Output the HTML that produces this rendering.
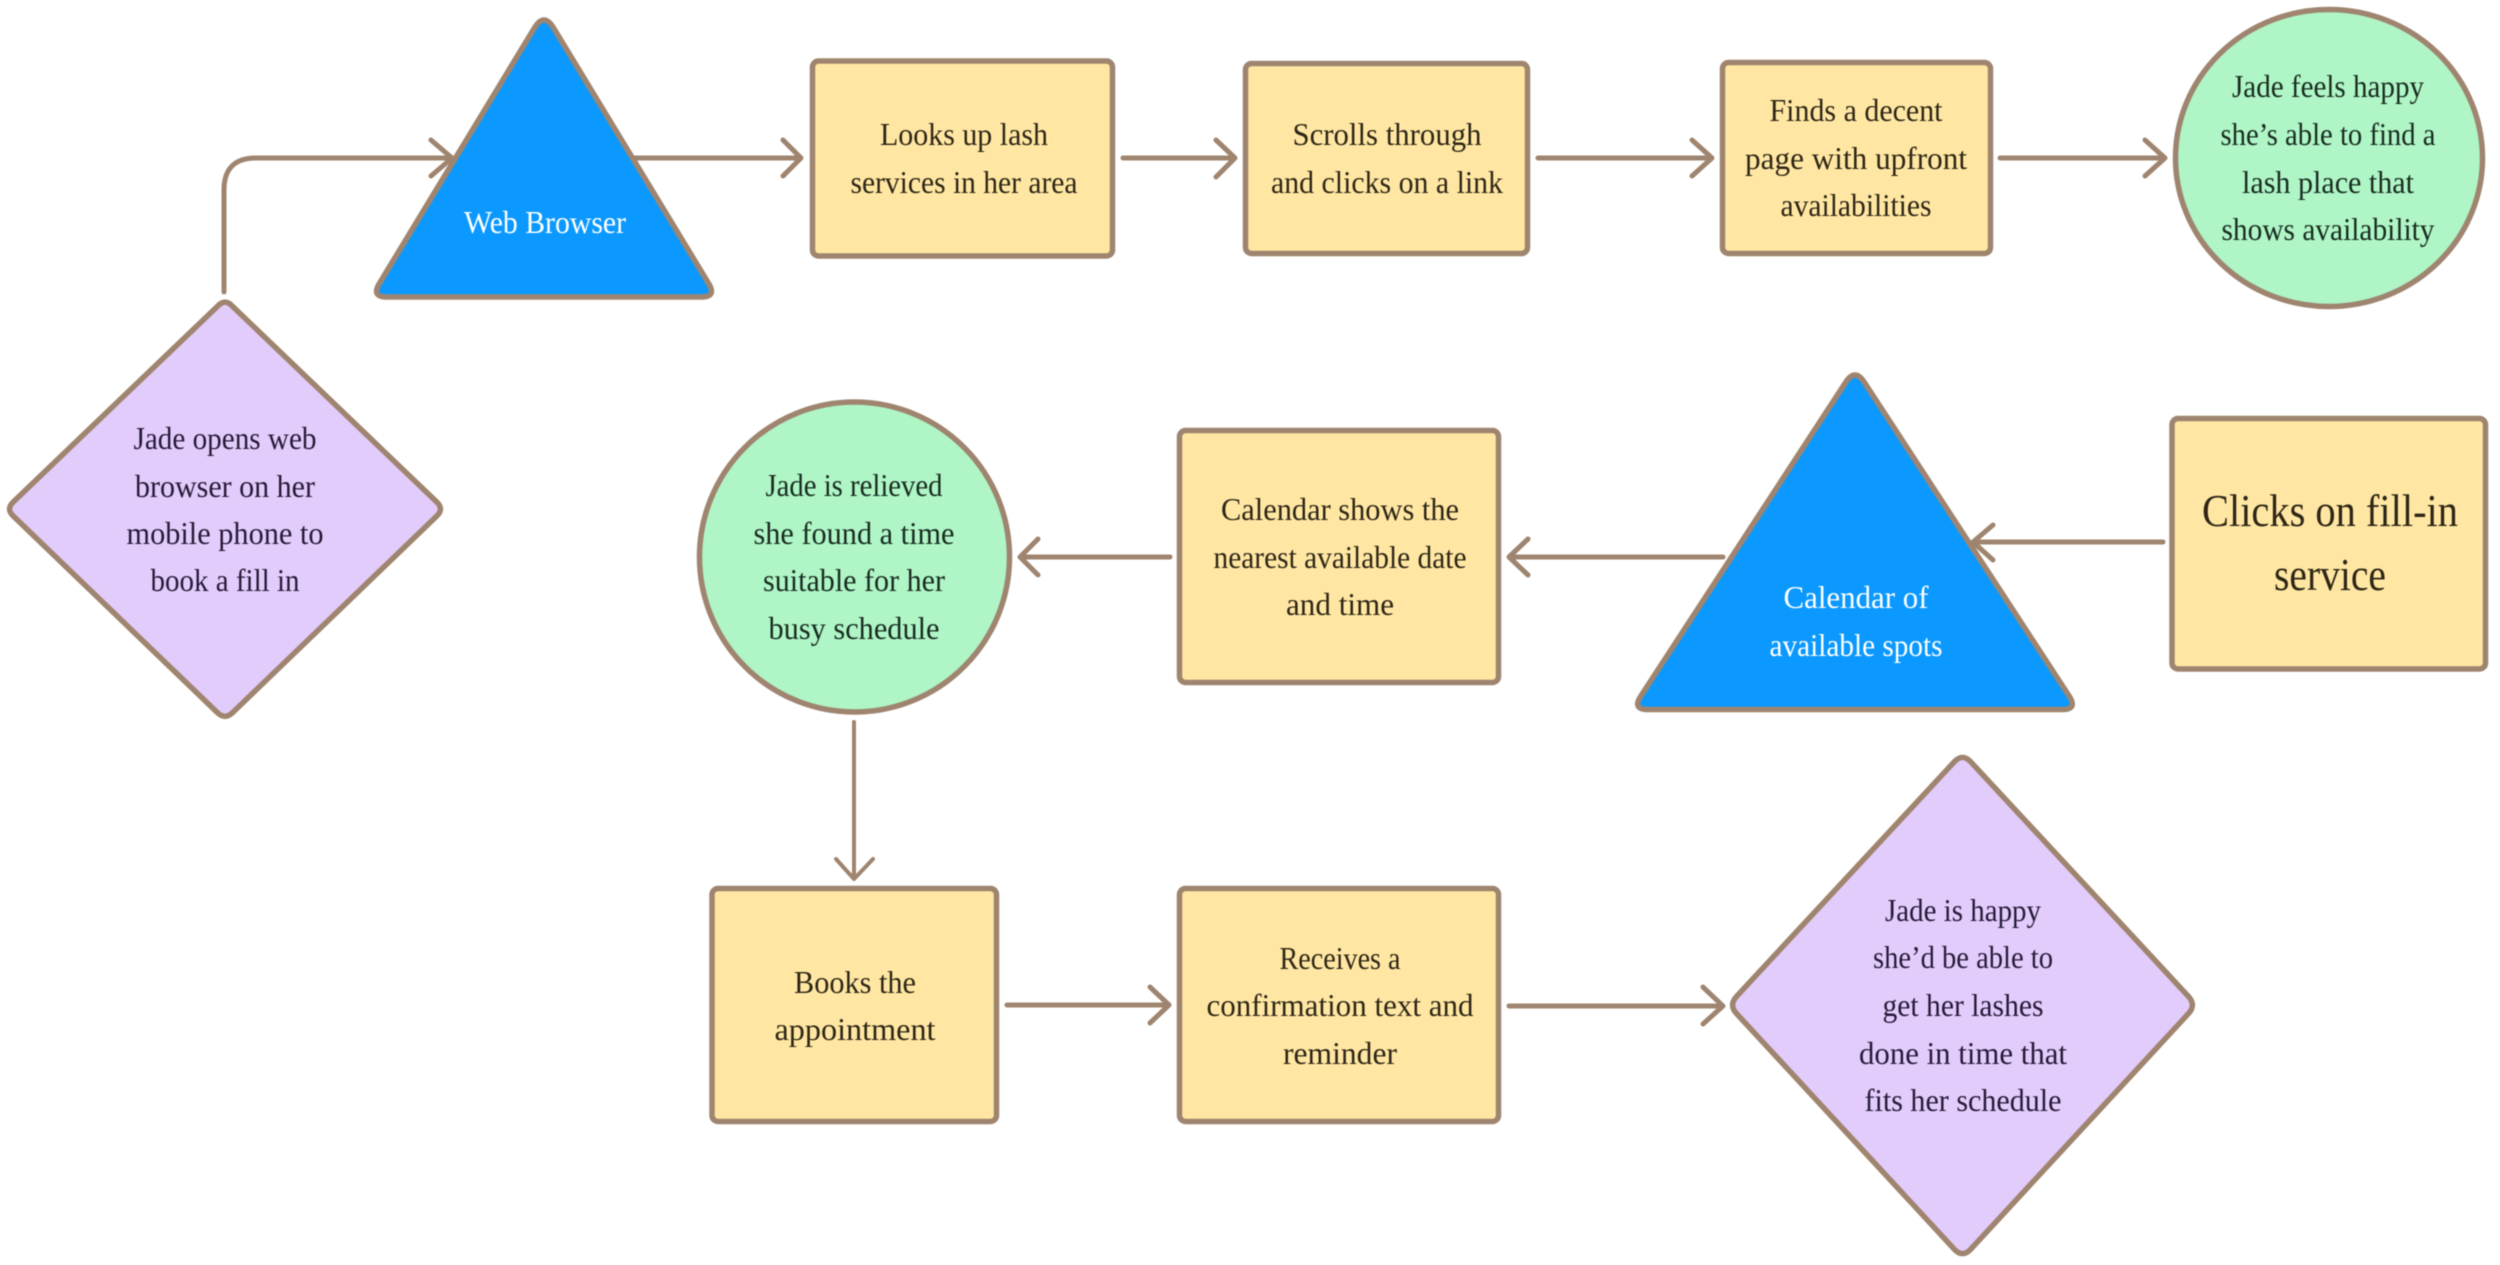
<!DOCTYPE html>
<html><head><meta charset="utf-8"><style>
html,body{margin:0;padding:0;background:#fff;width:2500px;height:1265px;overflow:hidden}
svg{display:block;filter:blur(.5px)}
text{font-family:"Liberation Serif",serif;font-size:32px;text-anchor:middle}
.s{stroke:#9f856f;stroke-width:5.5;stroke-linejoin:round}
.y{fill:#ffe7a3}.p{fill:#e2ccfb}.g{fill:#aff5c6}.b{fill:#0b99ff}
.a{fill:none;stroke:#9f856f;stroke-width:5;stroke-linecap:round;stroke-linejoin:round}
.ty{fill:#2e2616}.tp{fill:#261a38}.tg{fill:#182c20}.tb{fill:#fff}
</style></head><body>
<svg width="2500" height="1265" viewBox="0 0 2500 1265" xmlns="http://www.w3.org/2000/svg">
<rect width="2500" height="1265" fill="#fff"/>

<!-- connectors -->
<path class="a" d="M224 292V190Q224 158 256 158H452M431 140L452 158L431 176"/>
<path class="a" d="M635 158H801M783 140L801 158L783 176"/>
<path class="a" d="M1123 158H1235M1216 140L1235 158L1216 177"/>
<path class="a" d="M1538 158H1712M1692 140L1712 158L1692 176"/>
<path class="a" d="M2000 158H2165M2145 140L2165 158L2145 176"/>
<path class="a" d="M2163 542H1973M1993 525L1973 542L1993 560"/>
<path class="a" d="M1723 557H1509M1528 539L1509 557L1528 575"/>
<path class="a" d="M1170 557H1020M1038 539L1020 557L1038 575"/>
<path class="a" style="stroke-width:4" d="M854 722V879M836 859L854 879L873 859"/>
<path class="a" d="M1007 1005H1169M1150 987L1169 1005L1150 1023"/>
<path class="a" d="M1509 1006H1723M1703 987L1723 1006L1703 1024"/>

<!-- shapes -->
<path class="s p" d="M217.4 306.35Q225 298 232.6 306.35L436.4 501.65Q444.5 509 436.4 516.35L232.6 712.65Q225 720 217.4 712.65L13.6 516.35Q5.5 509 13.6 501.65Z"/>
<path class="s b" d="M534.4 28Q544 12 553.6 28L708.6 283.4Q717 297 701 297H387Q371 297 379.4 283.4Z"/>
<rect class="s y" x="812.5" y="61" width="300" height="195" rx="6"/>
<rect class="s y" x="1245.5" y="63.5" width="282" height="190" rx="6"/>
<rect class="s y" x="1722.5" y="62.5" width="268" height="191" rx="6"/>
<ellipse class="s g" cx="2329" cy="158" rx="153.5" ry="148.5"/>
<rect class="s y" x="2172" y="418.5" width="313.5" height="250.5" rx="6"/>
<path class="s b" d="M1845.9 382Q1855 368 1864.1 382L2069.2 696.1Q2078 709.5 2062 709.5H1648Q1632 709.5 1640.8 696.1Z"/>
<rect class="s y" x="1179.5" y="430.5" width="319" height="252" rx="6"/>
<ellipse class="s g" cx="854.5" cy="557" rx="155" ry="155"/>
<rect class="s y" x="712" y="888.5" width="284.5" height="233" rx="6"/>
<rect class="s y" x="1179.5" y="888.5" width="319" height="233" rx="6"/>
<path class="s p" d="M1954.3 761.8Q1962.5 753 1970.7 761.8L2188.3 996.2Q2196.5 1005 2188.3 1013.8L1970.7 1249.2Q1962.5 1258 1954.3 1249.2L1736.7 1013.8Q1728.5 1005 1736.7 996.2Z"/>

<!-- labels -->
<g class="tp">
<text x="225" y="449" textLength="183" lengthAdjust="spacingAndGlyphs">Jade opens web</text>
<text x="225" y="497" textLength="180" lengthAdjust="spacingAndGlyphs">browser on her</text>
<text x="225" y="544" textLength="197" lengthAdjust="spacingAndGlyphs">mobile phone to</text>
<text x="225" y="591" textLength="149" lengthAdjust="spacingAndGlyphs">book a fill in</text>
<text x="1963" y="921" textLength="156" lengthAdjust="spacingAndGlyphs">Jade is happy</text>
<text x="1963" y="968" textLength="180" lengthAdjust="spacingAndGlyphs">she’d be able to</text>
<text x="1963" y="1016" textLength="161" lengthAdjust="spacingAndGlyphs">get her lashes</text>
<text x="1963" y="1064" textLength="208" lengthAdjust="spacingAndGlyphs">done in time that</text>
<text x="1963" y="1111" textLength="197" lengthAdjust="spacingAndGlyphs">fits her schedule</text>
</g>
<g class="tb">
<text x="545" y="233" textLength="162" lengthAdjust="spacingAndGlyphs">Web Browser</text>
<text x="1856" y="608" textLength="145" lengthAdjust="spacingAndGlyphs">Calendar of</text>
<text x="1856" y="656" textLength="173" lengthAdjust="spacingAndGlyphs">available spots</text>
</g>
<g class="ty">
<text x="964" y="145" textLength="168" lengthAdjust="spacingAndGlyphs">Looks up lash</text>
<text x="964" y="193" textLength="227" lengthAdjust="spacingAndGlyphs">services in her area</text>
<text x="1387" y="145" textLength="189" lengthAdjust="spacingAndGlyphs">Scrolls through</text>
<text x="1387" y="193" textLength="232" lengthAdjust="spacingAndGlyphs">and clicks on a link</text>
<text x="1856" y="121" textLength="173" lengthAdjust="spacingAndGlyphs">Finds a decent</text>
<text x="1856" y="169" textLength="222" lengthAdjust="spacingAndGlyphs">page with upfront</text>
<text x="1856" y="216" textLength="151" lengthAdjust="spacingAndGlyphs">availabilities</text>
<text x="2330" y="526" style="font-size:46px" textLength="256" lengthAdjust="spacingAndGlyphs">Clicks on fill-in</text>
<text x="2330" y="590" style="font-size:46px" textLength="112" lengthAdjust="spacingAndGlyphs">service</text>
<text x="1340" y="520" textLength="238" lengthAdjust="spacingAndGlyphs">Calendar shows the</text>
<text x="1340" y="568" textLength="253" lengthAdjust="spacingAndGlyphs">nearest available date</text>
<text x="1340" y="615" textLength="108" lengthAdjust="spacingAndGlyphs">and time</text>
<text x="855" y="993" textLength="122" lengthAdjust="spacingAndGlyphs">Books the</text>
<text x="855" y="1040" textLength="161" lengthAdjust="spacingAndGlyphs">appointment</text>
<text x="1340" y="969" textLength="121" lengthAdjust="spacingAndGlyphs">Receives a</text>
<text x="1340" y="1016" textLength="267" lengthAdjust="spacingAndGlyphs">confirmation text and</text>
<text x="1340" y="1064" textLength="114" lengthAdjust="spacingAndGlyphs">reminder</text>
</g>
<g class="tg">
<text x="2328" y="97" textLength="192" lengthAdjust="spacingAndGlyphs">Jade feels happy</text>
<text x="2328" y="145" textLength="215" lengthAdjust="spacingAndGlyphs">she’s able to find a</text>
<text x="2328" y="193" textLength="172" lengthAdjust="spacingAndGlyphs">lash place that</text>
<text x="2328" y="240" textLength="213" lengthAdjust="spacingAndGlyphs">shows availability</text>
<text x="854" y="496" textLength="177" lengthAdjust="spacingAndGlyphs">Jade is relieved</text>
<text x="854" y="544" textLength="201" lengthAdjust="spacingAndGlyphs">she found a time</text>
<text x="854" y="591" textLength="182" lengthAdjust="spacingAndGlyphs">suitable for her</text>
<text x="854" y="639" textLength="171" lengthAdjust="spacingAndGlyphs">busy schedule</text>
</g>
</svg>
</body></html>
